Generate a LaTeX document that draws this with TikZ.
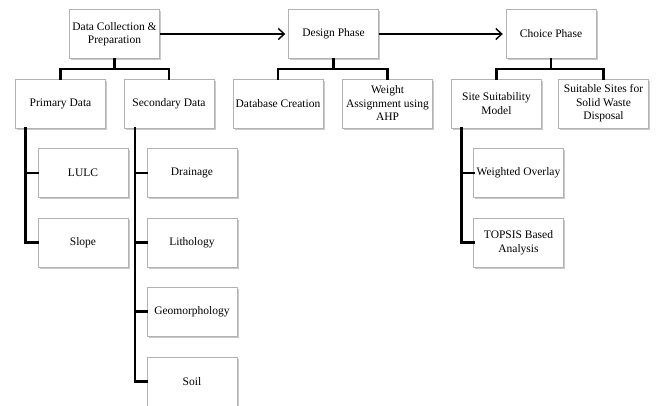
\documentclass[tikz,border=0pt]{standalone}
\usepackage{fontspec}
\setmainfont{Liberation Serif}
\usepackage{tikz}
\usetikzlibrary{arrows,arrows.meta,shadows}

\begin{document}
\begin{tikzpicture}[x=1pt,y=-1pt,
  box/.style={draw=gray!60, fill=white, minimum width=90pt, minimum height=49pt,
    inner sep=1pt, align=center, font=\fontsize{11.5}{13.5}\selectfont,
    drop shadow={shadow xshift=1.5pt, shadow yshift=-1.5pt, fill=gray!70, opacity=0.6}},
  tree/.style={line width=2.4pt, line cap=rect},
  flow/.style={-{Straight Barb[length=6pt,width=11pt,line width=1.4pt]}, line width=1.2pt, shorten >=3pt}]
\useasboundingbox (0,0) rectangle (656,405);

% phases
\node [box] (data) at (114.5,34) {Data Collection \&\\Preparation};
\node [box] (design) at (333.5,34) {Design Phase};
\node [box] (choice) at (551,34) {Choice Phase};

% second level
\node [box] (primary) at (60.5,103.5) {Primary Data};
\node [box] (secondary) at (169,103.5) {Secondary Data};
\node [box] (database) at (278,103.5) {Database Creation};
\node [box] (weight) at (387.5,103.5) {Weight\\Assignment using\\AHP};
\node [box] (site) at (496.5,103.5) {Site Suitability\\Model};
\node [box] (sites) at (603.5,103.5) {Suitable Sites for\\Solid Waste\\Disposal};

% third level
\node [box] (lulc) at (83,173) {LULC};
\node [box] (slope) at (83,242.5) {Slope};
\node [box] (drainage) at (192,173) {Drainage};
\node [box] (lithology) at (192,242.5) {Lithology};
\node [box] (geomorph) at (192,311.5) {Geomorphology};
\node [box] (soil) at (192,381.5) {Soil};
\node [box] (overlay) at (518.5,173) {Weighted Overlay};
\node [box] (topsis) at (518.5,242.5) {TOPSIS Based\\Analysis};

% arrows between phases
\draw [flow] (data) -- (design);
\draw [flow] (design) -- (choice);

% tree connectors
\draw [tree] (data.south) -- ++(0,10.5) -| (primary.north);
\draw [tree] (data.south) -- ++(0,10.5) -| (secondary.north);
\draw [tree] (design.south) -- ++(0,10.5) -| (database.north);
\draw [tree] (design.south) -- ++(0,10.5) -| (weight.north);
\draw [tree] (choice.south) -- ++(0,10.5) -| (site.north);
\draw [tree] (choice.south) -- ++(0,10.5) -| (sites.north);

\draw [tree] (primary.south west) ++(10,0) |- (lulc.west);
\draw [tree] (primary.south west) ++(10,0) |- (slope.west);
\draw [tree] (secondary.south west) ++(11,0) |- (drainage.west);
\draw [tree] (secondary.south west) ++(11,0) |- (lithology.west);
\draw [tree] (secondary.south west) ++(11,0) |- (geomorph.west);
\draw [tree] (secondary.south west) ++(11,0) |- (soil.west);
\draw [tree] (site.south west) ++(10,0) |- (overlay.west);
\draw [tree] (site.south west) ++(10,0) |- (topsis.west);
\end{tikzpicture}
\end{document}
